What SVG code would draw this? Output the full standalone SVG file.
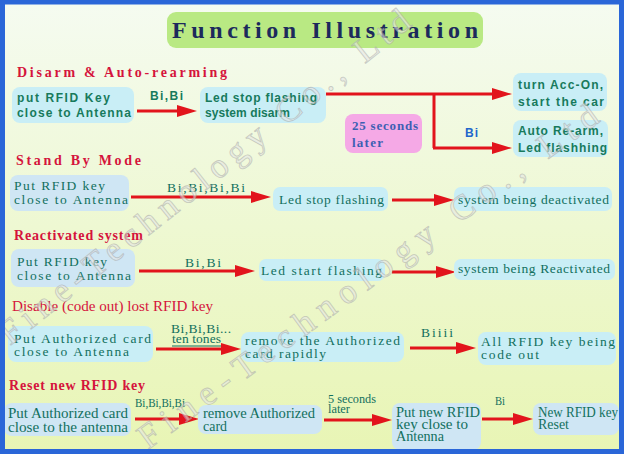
<svg xmlns="http://www.w3.org/2000/svg" width="624" height="454" viewBox="0 0 624 454">
<defs>
<linearGradient id="bg" x1="0" y1="0" x2="0" y2="1">
<stop offset="0" stop-color="#f5fbf1"/>
<stop offset="0.5" stop-color="#eef8d2"/>
<stop offset="1" stop-color="#e8f5b4"/>
</linearGradient>
<marker id="ah" markerUnits="userSpaceOnUse" markerWidth="21" markerHeight="13" refX="0" refY="6.5" orient="auto">
<path d="M0,0.5 L20,6.5 L0,12.5 z" fill="#e2141c"/>
</marker>
</defs>
<style>
.h{font-family:"Liberation Serif",serif;font-weight:bold;font-size:14px;fill:#d5143c}
.s{font-family:"Liberation Sans",Arial,sans-serif;font-weight:bold;font-size:12px;fill:#177a5c}
.n{font-family:"Liberation Serif",serif;font-size:13.5px;fill:#12705e}
.c{font-family:"Liberation Serif",serif;font-size:14px;fill:#12705e}
.sm{font-family:"Liberation Serif",serif;font-size:11.5px;fill:#12705e}
.bx{fill:#c9eef6}
.bx2{fill:#cfe6f4}
.ln{stroke:#e2141c;stroke-width:3;fill:none}
.ar{stroke:#e2141c;stroke-width:3;fill:none;marker-end:url(#ah)}
.wm{font-family:"Liberation Serif",serif;font-size:35px;fill:#e6e6e6;stroke:#a9a9a9;stroke-width:0.8;opacity:0.6}
</style>
<rect x="0" y="0" width="624" height="454" fill="url(#bg)"/>

<g id="title">
<rect x="167" y="12" width="316" height="36" rx="9" fill="#b9e983"/>
<text x="172" y="38" textLength="306" lengthAdjust="spacing" style="font-family:'Liberation Serif',serif;font-weight:bold;font-size:24px;fill:#1c2a5c">Function Illustration</text>
</g>

<g id="headings">
<text class="h" x="17" y="77" textLength="210" lengthAdjust="spacing">Disarm &amp; Auto-rearming</text>
<text class="h" x="16" y="165" textLength="125" lengthAdjust="spacing">Stand By Mode</text>
<text class="h" x="14" y="240" textLength="129" lengthAdjust="spacing">Reactivated system</text>
<text class="h" x="12" y="311" textLength="201" lengthAdjust="spacingAndGlyphs" style="font-weight:normal;font-size:15px">Disable (code out) lost RFID key</text>
<text class="h" x="9" y="390" textLength="136" lengthAdjust="spacing">Reset new RFID key</text>
</g>

<g id="connectors">
<line class="ar" x1="137" y1="111" x2="177" y2="111"/>
<path class="ln" d="M434,94 V148"/>
<line class="ar" x1="326" y1="94" x2="492" y2="94"/>
<line class="ar" x1="433" y1="148" x2="492" y2="148"/>
<line class="ar" x1="131" y1="197" x2="251" y2="197"/>
<line class="ar" x1="392" y1="200" x2="434" y2="200"/>
<line class="ar" x1="139" y1="271" x2="235" y2="271"/>
<line class="ar" x1="392" y1="272" x2="436" y2="272"/>
<line class="ar" x1="156" y1="349" x2="221" y2="349"/>
<line class="ar" x1="410" y1="348" x2="456" y2="348"/>
<line class="ar" x1="135" y1="419" x2="179" y2="419"/>
<line class="ar" x1="324" y1="420" x2="372" y2="420"/>
<line class="ar" x1="482" y1="419" x2="513" y2="419"/>
</g>

<g id="labels">
<text class="s" x="150" y="100" textLength="33" lengthAdjust="spacing">Bi,Bi</text>
<text class="s" x="465" y="137" textLength="13" lengthAdjust="spacing" style="fill:#2266cc">Bi</text>
<text class="n" x="167" y="192" textLength="78" lengthAdjust="spacing">Bi,Bi,Bi,Bi</text>
<text class="n" x="185" y="267" textLength="36" lengthAdjust="spacing">Bi,Bi</text>
<text class="n" x="171" y="333" textLength="60" lengthAdjust="spacing">Bi,Bi,Bi...</text>
<text class="n" x="172" y="343" textLength="49" lengthAdjust="spacing">ten tones</text>
<line x1="172" y1="346" x2="221" y2="346" stroke="#12705e" stroke-width="1"/>
<text class="n" x="421" y="337" textLength="32" lengthAdjust="spacing">Biiii</text>
<text class="sm" x="135" y="407" textLength="50" lengthAdjust="spacingAndGlyphs">Bi,Bi,Bi,Bi</text>
<text class="sm" x="328" y="403" textLength="48" lengthAdjust="spacingAndGlyphs">5 seconds</text>
<text class="sm" x="328" y="413" textLength="22" lengthAdjust="spacingAndGlyphs">later</text>
<text class="sm" x="495" y="405" textLength="10" lengthAdjust="spacingAndGlyphs">Bi</text>
</g>

<g id="n1a">
<rect class="bx" x="12" y="87" width="122" height="36" rx="8"/>
<text class="s" x="17" y="102" textLength="93" lengthAdjust="spacing">put RFID Key</text>
<text class="s" x="17" y="117" textLength="114" lengthAdjust="spacing">close to Antenna</text>
</g>
<g id="n1b">
<rect class="bx" x="200" y="87" width="126" height="36" rx="8"/>
<text class="s" x="205" y="102" textLength="112" lengthAdjust="spacing">Led stop flashing</text>
<text class="s" x="205" y="117" textLength="85" lengthAdjust="spacing">system disarm</text>
</g>
<g id="n1c">
<rect class="bx" x="513" y="73" width="94" height="38" rx="8"/>
<text class="s" x="518" y="89" textLength="85" lengthAdjust="spacing">turn Acc-On,</text>
<text class="s" x="518" y="106" textLength="86" lengthAdjust="spacing">start the car</text>
</g>
<g id="n1d">
<rect class="bx" x="513" y="120" width="95" height="37" rx="8"/>
<text class="s" x="518" y="135" textLength="85" lengthAdjust="spacing">Auto Re-arm,</text>
<text class="s" x="518" y="152" textLength="89" lengthAdjust="spacing">Led flashhing</text>
</g>
<g id="n1e">
<rect x="345" y="114" width="77" height="39" rx="8" fill="#f5a9e6"/>
<text x="352" y="130" textLength="66" lengthAdjust="spacing" style="font-family:'Liberation Serif',serif;font-weight:bold;font-size:13px;fill:#3d5fb2">25 seconds</text>
<text x="352" y="147" textLength="31" lengthAdjust="spacing" style="font-family:'Liberation Serif',serif;font-weight:bold;font-size:13px;fill:#3d5fb2">later</text>
</g>

<g id="n2a">
<rect class="bx2" x="10" y="175" width="119" height="36" rx="8"/>
<text class="n" x="14" y="190" textLength="91" lengthAdjust="spacing">Put RFID key</text>
<text class="n" x="14" y="204" textLength="114" lengthAdjust="spacing">close to Antenna</text>
</g>
<g id="n2b">
<rect class="bx" x="273" y="187" width="115" height="24" rx="7"/>
<text class="n" x="279" y="204" textLength="105" lengthAdjust="spacing">Led stop flashing</text>
</g>
<g id="n2c">
<rect class="bx" x="454" y="187" width="158" height="24" rx="7"/>
<text class="n" x="458" y="204" textLength="151" lengthAdjust="spacing">system being deactivated</text>
</g>

<g id="n3a">
<rect class="bx2" x="11" y="249" width="124" height="38" rx="8"/>
<text class="n" x="17" y="266" textLength="90" lengthAdjust="spacing">Put RFID key</text>
<text class="n" x="17" y="280" textLength="114" lengthAdjust="spacing">close to Antenna</text>
</g>
<g id="n3b">
<rect class="bx" x="259" y="259" width="126" height="22" rx="7"/>
<text class="n" x="261" y="275" textLength="121" lengthAdjust="spacing">Led start flashing</text>
</g>
<g id="n3c">
<rect class="bx" x="454" y="259" width="161" height="21" rx="7"/>
<text class="n" x="458" y="273" textLength="152" lengthAdjust="spacing">system being Reactivated</text>
</g>

<g id="n4a">
<rect class="bx" x="8" y="326" width="145" height="36" rx="8"/>
<text class="n" x="14" y="343" textLength="137" lengthAdjust="spacing">Put Authorized card</text>
<text class="n" x="14" y="356" textLength="115" lengthAdjust="spacing">close to Antenna</text>
</g>
<g id="n4b">
<rect class="bx" x="241" y="332" width="163" height="30" rx="8"/>
<text class="n" x="245" y="345" textLength="155" lengthAdjust="spacing">remove the Authorized</text>
<text class="n" x="245" y="358" textLength="81" lengthAdjust="spacing">card rapidly</text>
</g>
<g id="n4c">
<rect class="bx" x="478" y="332" width="138" height="33" rx="8"/>
<text class="n" x="481" y="346" textLength="134" lengthAdjust="spacing">All RFID key being</text>
<text class="n" x="481" y="359" textLength="58" lengthAdjust="spacing">code out</text>
</g>

<g id="n5a">
<rect class="bx2" x="4" y="403" width="127" height="33" rx="8"/>
<text class="c" x="8" y="418" textLength="120" lengthAdjust="spacingAndGlyphs">Put Authorized card</text>
<text class="c" x="8" y="432" textLength="120" lengthAdjust="spacingAndGlyphs">close to the antenna</text>
</g>
<g id="n5b">
<rect class="bx2" x="198" y="405" width="124" height="29" rx="8"/>
<text class="c" x="203" y="418" textLength="112" lengthAdjust="spacingAndGlyphs">remove Authorized</text>
<text class="c" x="203" y="431" textLength="24" lengthAdjust="spacingAndGlyphs">card</text>
</g>
<g id="n5c">
<rect class="bx2" x="392" y="403" width="89" height="47" rx="8"/>
<text class="c" x="396" y="417" textLength="84" lengthAdjust="spacingAndGlyphs">Put new RFID</text>
<text class="c" x="396" y="429" textLength="72" lengthAdjust="spacingAndGlyphs">key close to</text>
<text class="c" x="396" y="441" textLength="48" lengthAdjust="spacingAndGlyphs">Antenna</text>
</g>
<g id="n5d">
<rect class="bx2" x="533" y="403" width="86" height="32" rx="8"/>
<text class="c" x="538" y="417" textLength="80" lengthAdjust="spacingAndGlyphs">New RFID key</text>
<text class="c" x="538" y="429" textLength="31" lengthAdjust="spacingAndGlyphs">Reset</text>
</g>

<g id="watermark">
<text class="wm" transform="translate(10,346) rotate(-38.5)" x="0" y="0" textLength="515" lengthAdjust="spacing">Fine-Technology Co., Ltd</text>
<text class="wm" transform="translate(148,450) rotate(-36)" x="0" y="0" textLength="560" lengthAdjust="spacing">Fine-Technology Co., Ltd</text>
</g>

<rect x="2.5" y="2" width="619" height="449.5" fill="none" stroke="#2a66d8" stroke-width="5"/>
</svg>
